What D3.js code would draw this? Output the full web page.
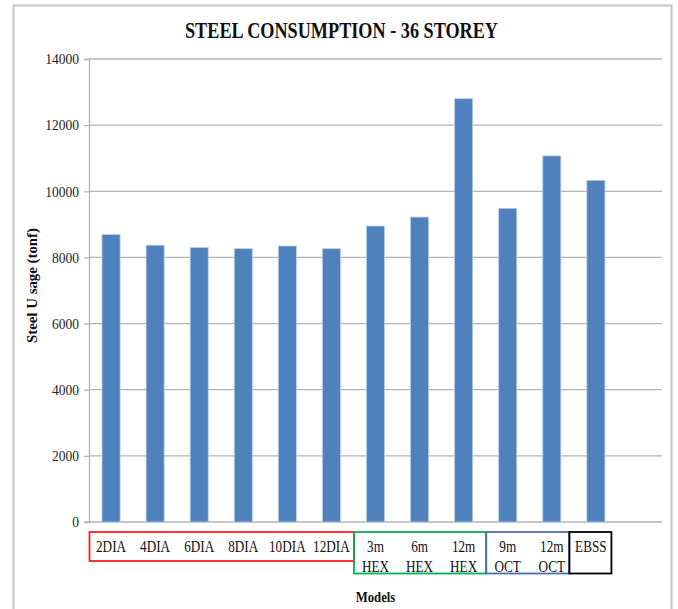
<!DOCTYPE html>
<html>
<head>
<meta charset="utf-8">
<script src="https://cdn.jsdelivr.net/npm/d3@7"></script>
<style>
  html, body { margin: 0; padding: 0; background: #fff; }
  svg { display: block; }
</style>
</head>
<body>
<svg id="chart" width="678" height="609"></svg>
<script>
// ---- data ----
const categories = ["2DIA", "4DIA", "6DIA", "8DIA", "10DIA", "12DIA", "3m HEX", "6m HEX", "12m HEX", "9m OCT", "12m OCT", "EBSS"];
const labelLines = [["2DIA"], ["4DIA"], ["6DIA"], ["8DIA"], ["10DIA"], ["12DIA"], ["3m", "HEX"], ["6m", "HEX"], ["12m", "HEX"], ["9m", "OCT"], ["12m", "OCT"], ["EBSS"]];
const steelUsage = [8690, 8370, 8300, 8265, 8345, 8265, 8950, 9220, 12800, 9485, 11070, 10330];
const yTicks = [0, 2000, 4000, 6000, 8000, 10000, 12000, 14000];
const groupNames = ["DIA", "HEX", "OCT", "EBSS"];
const groupStart = [0, 6, 9, 11];
const groupEnd = [6, 9, 11, 12];
const groupColors = ["#ff2020", "#00b050", "#4f6fb5", "#000000"];
const title = "STEEL CONSUMPTION - 36 STOREY";
const xTitle = "Models";
const yTitle = "Steel U sage (tonf)";

// ---- layout ----
const svg = d3.select("#chart");
const plotL = 89, plotR = 662, plotT = 59, plotB = 522;
const serif = "Liberation Serif, Times New Roman, serif";

const y = d3.scaleLinear().domain([0, 14000]).range([plotB, plotT]);
const x = d3.scaleBand().domain(categories)
  .range([plotL, plotR - (plotR - plotL) / 13])
  .paddingInner(0.59).paddingOuter(0.295);
const step = x.step();
const slot = i => plotL + i * step;

// squeeze text horizontally (reference text is tall and narrow)
function squeeze(sel, k) {
  sel.each(function() {
    const w = this.getComputedTextLength();
    d3.select(this).attr("textLength", w * k).attr("lengthAdjust", "spacingAndGlyphs");
  });
}

// outer frame
svg.append("rect").attr("x", 13.5).attr("y", 5.5).attr("width", 658).attr("height", 620)
  .attr("fill", "#fff").attr("stroke", "#c4c4c4").attr("stroke-width", 2);

// title
svg.append("text").attr("x", 341.5).attr("y", 38).attr("text-anchor", "middle")
  .attr("font-family", serif)
  .attr("font-weight", "bold").attr("font-size", 24)
  .attr("textLength", 313).attr("lengthAdjust", "spacingAndGlyphs")
  .attr("fill", "#111").text(title);

// gridlines
svg.append("g").selectAll("line").data(yTicks.filter(d => d > 0)).join("line")
  .attr("x1", plotL).attr("x2", plotR)
  .attr("y1", d => y(d)).attr("y2", d => y(d))
  .attr("stroke", "#b4b4b4").attr("stroke-width", 1.3);

// y axis
const yAxis = d3.axisLeft(y).tickValues(yTicks).tickSize(5).tickPadding(5).tickFormat(d3.format("d"));
const gy = svg.append("g").attr("transform", `translate(${plotL},0)`).call(yAxis);
gy.select(".domain").attr("stroke", "#b4b4b4").attr("stroke-width", 1.3);
gy.selectAll(".tick line").attr("stroke", "#b4b4b4").attr("stroke-width", 1.3);
gy.selectAll(".tick text").attr("font-family", serif)
  .attr("font-size", 15).attr("fill", "#222");
squeeze(gy.selectAll(".tick text"), 0.9);

// x axis line (no labels)
const xAxis = d3.axisBottom(x).tickSize(0).tickFormat("");
const gx = svg.append("g").attr("transform", `translate(0,${plotB})`).call(xAxis);
gx.select(".domain").attr("d", `M${plotL - 4},0H${plotR}`).attr("stroke", "#b4b4b4").attr("stroke-width", 1.3);

// bars
svg.append("g").selectAll("rect").data(categories).join("rect")
  .attr("x", d => x(d)).attr("width", x.bandwidth())
  .attr("y", (d, i) => y(steelUsage[i]))
  .attr("height", (d, i) => y(0) - y(steelUsage[i]))
  .attr("fill", "#4f81bd").attr("stroke", "#b9cde6").attr("stroke-width", 0.8);

// group boxes under the axis
const boxTop = 532;
const nudgeL = [0, 0, 0, -5];
const nudgeR = [0, 0, -5, -7];
svg.append("g").selectAll("rect").data(groupNames).join("rect")
  .attr("x", (d, i) => slot(groupStart[i]) + nudgeL[i] + 0.5)
  .attr("y", boxTop)
  .attr("width", (d, i) => slot(groupEnd[i]) + nudgeR[i] - slot(groupStart[i]) - nudgeL[i])
  .attr("height", (d, i) => i === 0 ? 29 : 41.5)
  .attr("fill", "none").attr("stroke", (d, i) => groupColors[i]).attr("stroke-width", 1.8);

// category labels
const labG = svg.append("g");
categories.forEach((c, i) => {
  const cx = i === categories.length - 1 ? x(c) + x.bandwidth() / 2 - 5 : x(c) + x.bandwidth() / 2;
  labelLines[i].forEach((ln, k) => {
    labG.append("text")
      .attr("x", cx).attr("y", 552 + k * 19.5)
      .attr("text-anchor", "middle")
      .attr("font-family", serif)
      .attr("font-size", 16.5).attr("fill", "#111").text(ln);
  });
});
squeeze(labG.selectAll("text"), 0.8);

// axis titles
const xt = svg.append("text").attr("x", (plotL + plotR) / 2).attr("y", 602).attr("text-anchor", "middle")
  .attr("font-family", serif)
  .attr("font-weight", "bold").attr("font-size", 14.5).attr("fill", "#111").text(xTitle);
squeeze(xt, 0.88);

svg.append("text").attr("transform", "translate(37,285.5) rotate(-90)").attr("text-anchor", "middle")
  .attr("font-family", serif)
  .attr("font-weight", "bold").attr("font-size", 14)
  .attr("textLength", 115).attr("lengthAdjust", "spacingAndGlyphs")
  .attr("fill", "#111").text(yTitle);
</script>
</body>
</html>
